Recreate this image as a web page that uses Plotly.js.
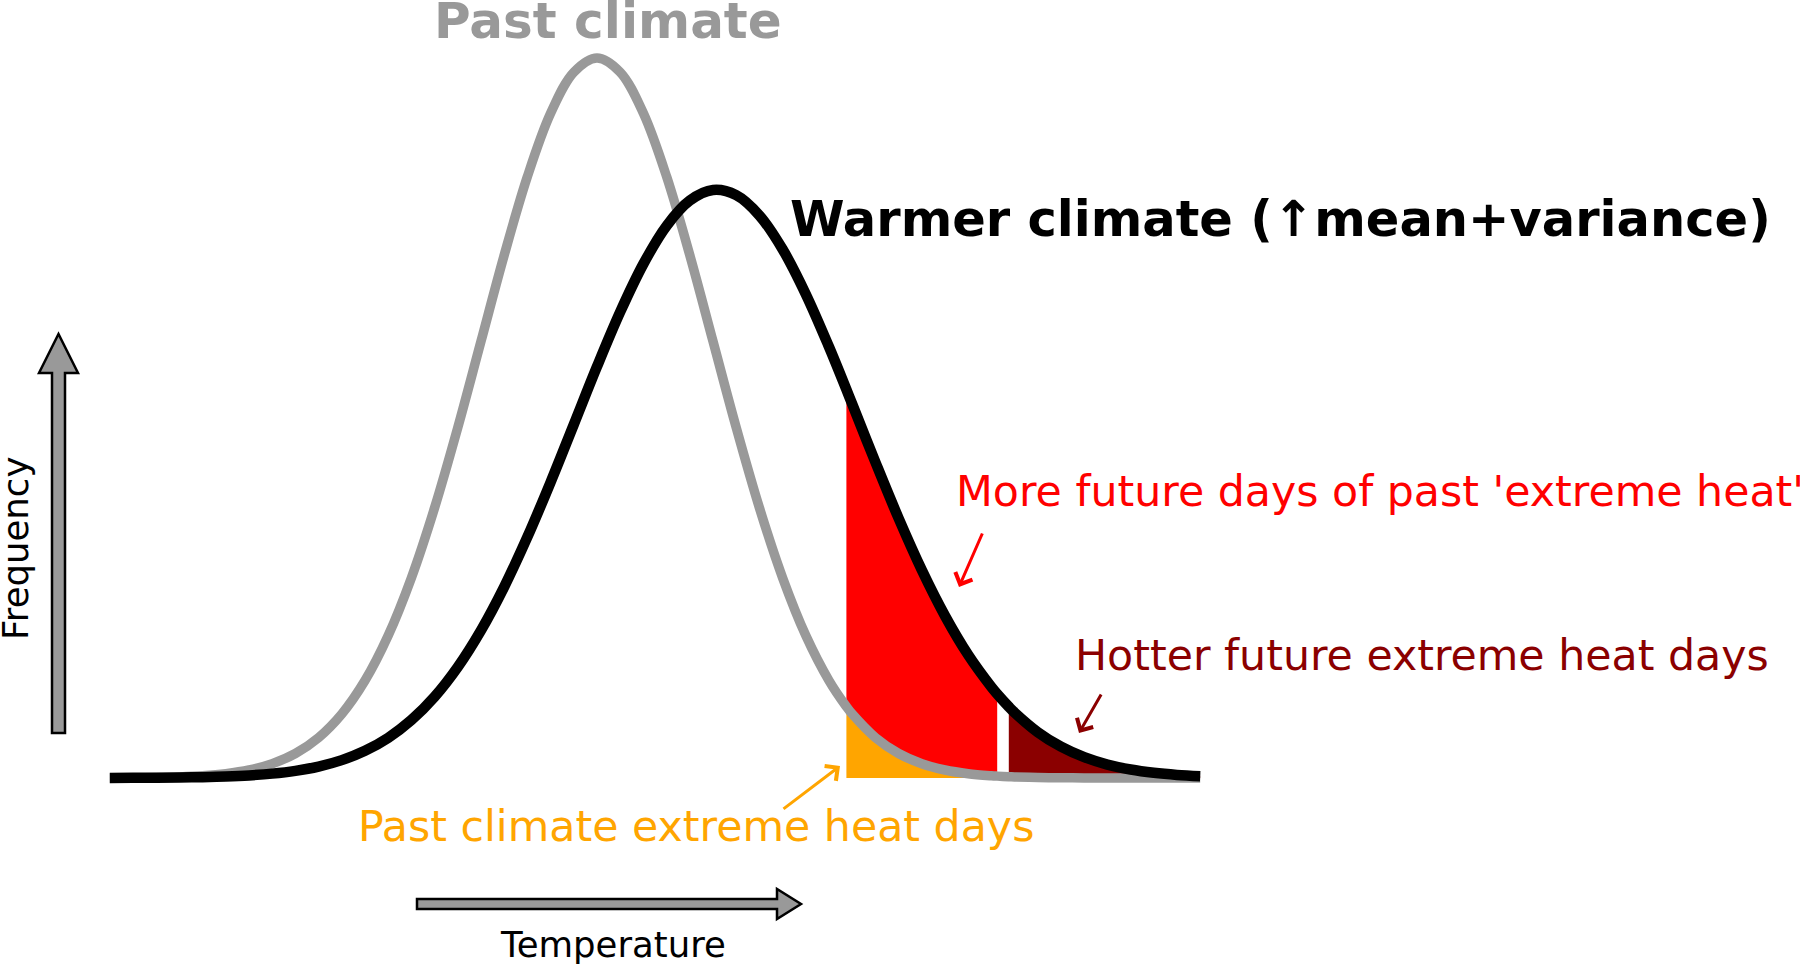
<!DOCTYPE html>
<html>
<head>
<meta charset="utf-8">
<script src="https://cdn.plot.ly/plotly-3.0.1.min.js"></script>
<style>html,body{margin:0;padding:0;background:#fff;overflow:hidden}</style>
</head>
<body>
<div id="chart" style="width:1800px;height:966px"></div>
<script>
// Temperature (in units of past-climate standard deviations from the past mean)
const temperature = [-4.2,-4.0,-3.8,-3.6,-3.4,-3.2,-3.0,-2.8,-2.6,-2.4,-2.2,-2.0,-1.8,-1.6,-1.4,-1.2,-1.0,-0.8,-0.6,-0.4,-0.2,0.0,
  0.2,0.4,0.6,0.8,1.0,1.2,1.4,1.6,1.8,2.0,2.15,2.2,2.4,2.6,2.8,3.0,3.2,3.4,3.45,3.55,3.6,3.8,4.0,4.2,4.4,4.6,4.8,5.0,5.2];

// Frequency of the past climate (grey curve)
const pastClimate = [0.0000589,0.000134,0.000292,0.000612,0.001232,0.002384,0.004432,0.007915,0.013583,0.022395,0.035475,0.053991,
  0.078950,0.110921,0.149727,0.194186,0.241971,0.289692,0.333225,0.368270,0.391043,0.398942,
  0.391043,0.368270,0.333225,0.289692,0.241971,0.194186,0.149727,0.110921,0.078950,0.053991,0.039550,0.035475,0.022395,0.013583,
  0.007915,0.004432,0.002384,0.001232,0.001038,0.000732,0.000612,0.000292,0.000134,0.0000589,0.0000249,0.0000101,0.0000040,0.0000015,0.0000005];

// Frequency of the warmer climate (black curve)
const warmerClimate = [0.0000348,0.0000690,0.000133,0.000251,0.000459,0.000819,0.001423,0.002407,0.003961,0.006351,0.009913,0.015065,
  0.022293,0.032124,0.045049,0.061530,0.081817,0.105931,0.133541,0.163915,0.195895,0.227948,
  0.258243,0.284866,0.305955,0.319949,0.325767,0.322954,0.311727,0.292965,0.268079,0.238852,0.215231,0.207194,0.174995,0.143904,
  0.115225,0.089834,0.068178,0.050391,0.046525,0.039476,0.036269,0.025409,0.017332,0.011516,0.007446,0.004688,0.002874,0.001716,0.000997];

// Thresholds of the shaded regions
const pastExtremeThreshold = 2.15;
const moreDaysEnd = 3.45;
const hotterStart = 3.55;

// Texts
const labels = {
  past: 'Past climate',
  warmer: 'Warmer climate (\u2191mean+variance)',
  moreDays: "More future days of past 'extreme heat'",
  hotter: 'Hotter future extreme heat days',
  pastExtreme: 'Past climate extreme heat days',
  xLabel: 'Temperature',
  yLabel: 'Frequency'
};

// ---------- drawing ----------
const W = 1800, H = 966;
const FONT = 'DejaVu Sans, Liberation Sans, sans-serif';
const px = v => v / W;
const py = v => 1 - v / H;

function slice(arr, lo, hi) {
  const xs = [], ys = [];
  temperature.forEach((t, i) => {
    if (t >= lo - 1e-9 && t <= hi + 1e-9) { xs.push(t); ys.push(arr[i]); }
  });
  return {x: xs, y: ys};
}
const tMax = temperature[temperature.length - 1];

const orange = slice(pastClimate, pastExtremeThreshold, tMax);
const redLow = slice(pastClimate, pastExtremeThreshold, moreDaysEnd);
const redHigh = slice(warmerClimate, pastExtremeThreshold, moreDaysEnd);
const darkLow = slice(pastClimate, hotterStart, tMax);
const darkHigh = slice(warmerClimate, hotterStart, tMax);

const sp = {shape: 'spline', smoothing: 1};
const noLine = Object.assign({width: 0, color: 'rgba(0,0,0,0)'}, sp);
const traces = [
  {x: orange.x, y: orange.y, mode: 'lines', fill: 'tozeroy', fillcolor: '#ffa500', line: noLine, hoverinfo: 'skip'},
  {x: redLow.x, y: redLow.y, mode: 'lines', line: noLine, hoverinfo: 'skip'},
  {x: redHigh.x, y: redHigh.y, mode: 'lines', fill: 'tonexty', fillcolor: '#ff0000', line: noLine, hoverinfo: 'skip'},
  {x: darkLow.x, y: darkLow.y, mode: 'lines', line: noLine, hoverinfo: 'skip'},
  {x: darkHigh.x, y: darkHigh.y, mode: 'lines', fill: 'tonexty', fillcolor: '#8b0000', line: noLine, hoverinfo: 'skip'},
  {x: temperature, y: pastClimate, mode: 'lines', name: labels.past,
   line: Object.assign({width: 9.5, color: '#999999'}, sp)},
  {x: temperature, y: warmerClimate, mode: 'lines', name: 'Warmer climate',
   line: Object.assign({width: 10.5, color: '#000000'}, sp)}
];

function text(t, x, y, size, color, opts) {
  return Object.assign({
    text: t, x: px(x), y: py(y), xref: 'paper', yref: 'paper', showarrow: false,
    xanchor: 'left', yanchor: 'middle',
    font: {family: FONT, size: size, color: color}
  }, opts || {});
}
function arrow(tipX, tipY, tailX, tailY, color) {
  return {
    text: '', x: px(tipX), y: py(tipY), xref: 'paper', yref: 'paper',
    showarrow: true, ax: tailX - tipX, ay: tailY - tipY,
    arrowhead: 4, arrowsize: 1.2, arrowwidth: 3, arrowcolor: color, standoff: 0
  };
}

const annotations = [
  text(labels.past, 608, 21, 50, '#999999', {xanchor: 'center', font: {family: FONT, size: 50, color: '#999999', weight: 'bold'}}),
  text(labels.warmer, 788, 219, 49.5, '#000000', {font: {family: FONT, size: 49.5, color: '#000000', weight: 'bold'}}),
  text(labels.moreDays, 954, 491, 42.7, '#ff0000'),
  text(labels.hotter, 1073, 655, 42.7, '#8b0000'),
  text(labels.pastExtreme, 356, 826, 42.7, '#ffa500'),
  text(labels.xLabel, 613, 944, 35.5, '#000000', {xanchor: 'center'}),
  text(labels.yLabel, 15, 549, 35.5, '#000000', {xanchor: 'center', textangle: -90}),
  arrow(959, 587, 983, 532, '#ff0000'),
  arrow(1079, 733, 1102, 693, '#8b0000'),
  arrow(840, 766, 782, 810, '#ffa500')
];

function pathOf(points) {
  return 'M' + points.map(p => px(p[0]) + ',' + py(p[1])).join('L') + 'Z';
}
const shapes = [
  {type: 'path', xref: 'paper', yref: 'paper', fillcolor: '#999999', line: {color: '#000000', width: 2.5},
   path: pathOf([[52, 733], [52, 373], [39, 373], [58.5, 334], [78, 373], [65, 373], [65, 733]])},
  {type: 'path', xref: 'paper', yref: 'paper', fillcolor: '#999999', line: {color: '#000000', width: 2.5},
   path: pathOf([[417, 899], [777, 899], [777, 889], [801, 904], [777, 919], [777, 909], [417, 909]])}
];

const layout = {
  width: W, height: H, autosize: false,
  margin: {l: 0, r: 0, t: 0, b: 0, pad: 0},
  paper_bgcolor: '#ffffff', plot_bgcolor: '#ffffff',
  showlegend: false,
  xaxis: {range: [-5.1466, 10.3707], visible: false, fixedrange: true},
  yaxis: {range: [-0.10417, 0.43107], visible: false, fixedrange: true},
  annotations: annotations,
  shapes: shapes,
  font: {family: FONT}
};

Plotly.newPlot('chart', traces, layout, {staticPlot: true, displayModeBar: false});
</script>
</body>
</html>
